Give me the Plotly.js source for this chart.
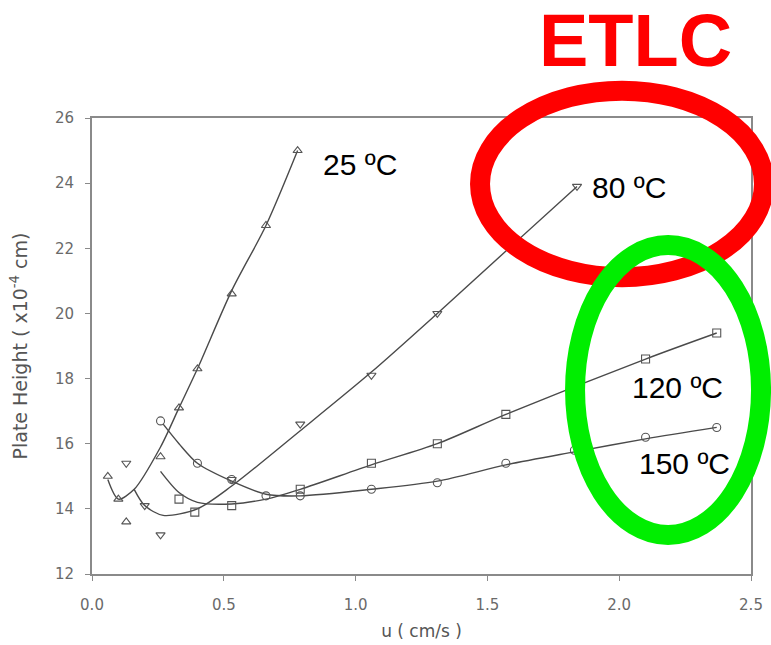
<!DOCTYPE html>
<html>
<head>
<meta charset="utf-8">
<script src="https://cdn.plot.ly/plotly-3.0.1.min.js"></script>
<style>html,body{margin:0;padding:0;background:#fff;}#chart{width:771px;height:645px;}</style>
</head>
<body>
<div id="chart"></div>
<script>
// Measured points (marker symbols)
const u25 = [0.06, 0.10, 0.13, 0.26, 0.33, 0.40, 0.53, 0.66, 0.78];
const h25 = [15.0, 14.3, 13.6, 15.6, 17.1, 18.3, 20.6, 22.7, 25.0];
const u80 = [0.13, 0.20, 0.26, 0.53, 0.79, 1.06, 1.31, 1.84];
const h80 = [15.4, 14.1, 13.2, 14.9, 16.6, 18.1, 20.0, 23.9];
const u120 = [0.33, 0.39, 0.53, 0.79, 1.06, 1.31, 1.57, 2.10, 2.37];
const h120 = [14.3, 13.9, 14.1, 14.6, 15.4, 16.0, 16.9, 18.6, 19.4];
const u150 = [0.26, 0.40, 0.53, 0.66, 0.79, 1.06, 1.31, 1.57, 1.83, 2.10, 2.37];
const h150 = [16.7, 15.4, 14.9, 14.4, 14.4, 14.6, 14.8, 15.4, 15.8, 16.2, 16.5];

// Fitted curves
const fu25 = [0.06, 0.10, 0.16, 0.26, 0.33, 0.40, 0.53, 0.66, 0.78];
const fh25 = [14.9, 14.3, 14.6, 15.9, 17.1, 18.3, 20.7, 22.7, 25.0];
const fu80 = [0.16, 0.20, 0.27, 0.40, 0.53, 0.79, 1.06, 1.31, 1.84];
const fh80 = [14.6, 14.1, 13.8, 14.0, 14.7, 16.4, 18.2, 20.0, 23.9];
const fu120 = [0.26, 0.33, 0.40, 0.53, 0.66, 0.79, 1.06, 1.31, 1.57, 2.10, 2.37];
const fh120 = [15.15, 14.5, 14.2, 14.15, 14.3, 14.6, 15.35, 16.0, 16.9, 18.6, 19.4];
const fu150 = [0.27, 0.33, 0.40, 0.53, 0.66, 0.79, 1.06, 1.31, 1.57, 1.83, 2.10, 2.37];
const fh150 = [16.6, 16.0, 15.4, 14.85, 14.45, 14.4, 14.6, 14.85, 15.35, 15.75, 16.15, 16.5];

const seriesLabels = ["25 ºC", "80 ºC", "120 ºC", "150 ºC"];
const xTicks = [0, 0.5, 1.0, 1.5, 2.0, 2.5];
const yTicks = [12, 14, 16, 18, 20, 22, 24, 26];

const lineColor = "#4a4a4a";
function fit(x, y) {
  return {x: x, y: y, mode: "lines", type: "scatter", showlegend: false, hoverinfo: "skip",
          line: {color: lineColor, width: 1.4, shape: "spline", smoothing: 0.8}};
}
function pts(x, y, sym, name) {
  return {x: x, y: y, mode: "markers", type: "scatter", name: name, showlegend: false,
          marker: {symbol: sym, size: 8, color: "#555", line: {color: "#555", width: 1.1}}};
}

const data = [
  fit(fu25, fh25), fit(fu80, fh80), fit(fu120, fh120), fit(fu150, fh150),
  pts(u25, h25, "triangle-up-open", seriesLabels[0]),
  pts(u80, h80, "triangle-down-open", seriesLabels[1]),
  pts(u120, h120, "square-open", seriesLabels[2]),
  pts(u150, h150, "circle-open", seriesLabels[3])
];

const axisFamily = "'DejaVu Sans', sans-serif";
const tickFont = {family: axisFamily, size: 15, color: "#6a6a6a"};
const labelFont = {family: "Arial, 'Liberation Sans', sans-serif", size: 30, color: "#000"};

const layout = {
  width: 771, height: 645,
  margin: {l: 92, r: 20, t: 118, b: 71},
  paper_bgcolor: "#fff", plot_bgcolor: "#fff",
  showlegend: false,
  xaxis: {
    range: [0, 2.5], tickvals: xTicks, tickformat: ".1f",
    showgrid: false, zeroline: false, showline: true, mirror: true,
    linecolor: "#8a8a8a", linewidth: 2, ticks: "outside", ticklen: 5, tickcolor: "#8a8a8a",
    tickfont: tickFont, ticklabelstandoff: 11,
    title: {text: "u ( cm/s )", font: {family: axisFamily, size: 17, color: "#555"}, standoff: 12}
  },
  yaxis: {
    range: [12, 26], tickvals: yTicks,
    showgrid: false, zeroline: false, showline: true, mirror: true,
    linecolor: "#8a8a8a", linewidth: 2, ticks: "outside", ticklen: 5, tickcolor: "#8a8a8a",
    tickfont: tickFont, ticklabelstandoff: 8,
    title: {text: "Plate Height ( x10<sup>-4</sup> cm)", font: {family: axisFamily, size: 19, color: "#555"}, standoff: 22}
  },
  annotations: [
    {text: seriesLabels[0], xref: "paper", yref: "paper", x: 0.3475, y: 0.897, xanchor: "left", yanchor: "middle", showarrow: false, font: labelFont},
    {text: seriesLabels[1], xref: "paper", yref: "paper", x: 0.7557, y: 0.8465, xanchor: "left", yanchor: "middle", showarrow: false, font: labelFont},
    {text: seriesLabels[2], xref: "paper", yref: "paper", x: 0.8164, y: 0.410, xanchor: "left", yanchor: "middle", showarrow: false, font: labelFont},
    {text: seriesLabels[3], xref: "paper", yref: "paper", x: 0.827, y: 0.2434, xanchor: "left", yanchor: "middle", showarrow: false, font: labelFont},
    {text: "<b>ETLC</b>", xref: "paper", yref: "paper", x: 0.824, y: 1.171, xanchor: "center", yanchor: "middle", showarrow: false,
     font: {family: "Arial, 'Liberation Sans', sans-serif", size: 74, color: "#ff0000"}}
  ],
  shapes: [
    {type: "circle", xref: "paper", yref: "paper", x0: 0.5888, x1: 1.0197, y0: 0.651, y1: 1.06,
     line: {color: "#ff0000", width: 20}, fillcolor: "rgba(0,0,0,0)", layer: "above"},
    {type: "circle", xref: "paper", yref: "paper", x0: 0.733, x1: 1.0152, y0: 0.0855, y1: 0.7215,
     line: {color: "#00ee00", width: 20}, fillcolor: "rgba(0,0,0,0)", layer: "above"}
  ]
};

Plotly.newPlot("chart", data, layout, {displayModeBar: false, staticPlot: true});
</script>
</body>
</html>
